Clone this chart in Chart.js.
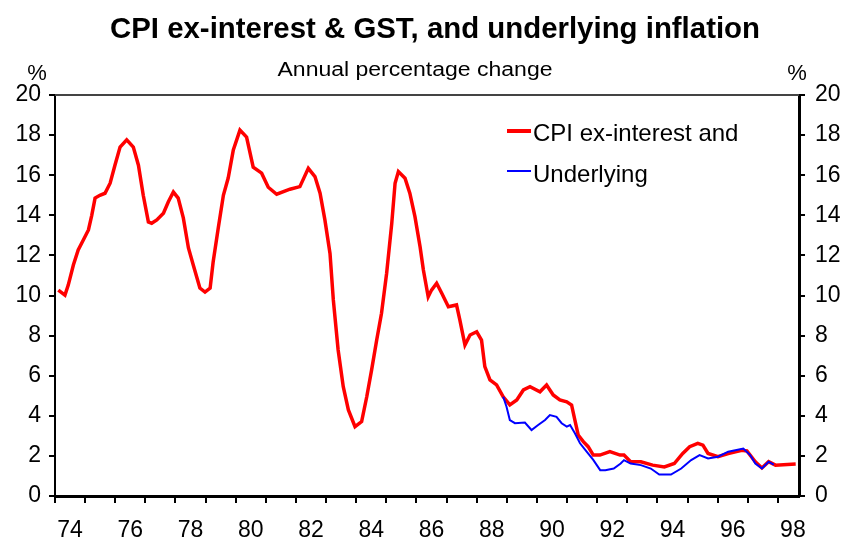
<!DOCTYPE html>
<html>
<head>
<meta charset="utf-8">
<title>CPI ex-interest & GST, and underlying inflation</title>
<script src="https://cdn.jsdelivr.net/npm/chart.js@4.4.1/dist/chart.umd.min.js"></script>
<style>
  html, body { margin: 0; padding: 0; background: #fff; }
  #wrap { width: 845px; height: 542px; position: relative; }
</style>
</head>
<body>
<div id="wrap"><canvas id="cpiChart" width="845" height="542"></canvas></div>
<script>
// Chart data
const cpiYears = [
  1974.11, 1974.33, 1974.44, 1974.61, 1974.77, 1974.94, 1975.11, 1975.22, 1975.33, 1975.49,
  1975.66, 1975.83, 1975.99, 1976.16, 1976.38, 1976.6, 1976.77, 1976.93, 1977.1, 1977.21,
  1977.38, 1977.6, 1977.76, 1977.93, 1978.09, 1978.26, 1978.43, 1978.59, 1978.81, 1978.98,
  1979.15, 1979.25, 1979.42, 1979.59, 1979.75, 1979.92, 1980.14, 1980.36, 1980.58, 1980.86,
  1981.08, 1981.36, 1981.8, 1982.13, 1982.41, 1982.63, 1982.8, 1982.96, 1983.13, 1983.24,
  1983.4, 1983.57, 1983.74, 1983.96, 1984.18, 1984.35, 1984.51, 1984.68, 1984.84, 1985.01,
  1985.18, 1985.29, 1985.4, 1985.62, 1985.78, 1985.95, 1986.12, 1986.23, 1986.39, 1986.5,
  1986.67, 1986.84, 1987.06, 1987.33, 1987.44, 1987.61, 1987.78, 1988.0, 1988.16, 1988.27,
  1988.44, 1988.66, 1988.88, 1989.1, 1989.33, 1989.55, 1989.77, 1990.1, 1990.32, 1990.54,
  1990.76, 1990.99, 1991.15, 1991.26, 1991.37, 1991.54, 1991.7, 1991.87, 1992.09, 1992.42,
  1992.76, 1992.89, 1993.11, 1993.45, 1993.84, 1994.23, 1994.56, 1994.84, 1995.07, 1995.34,
  1995.51, 1995.68, 1996.01, 1996.35, 1996.8, 1996.97, 1997.25, 1997.47, 1997.69, 1997.92,
  1998.59
];
const cpiValues = [
  10.27, 10.02, 10.52, 11.52, 12.27, 12.77, 13.27, 14.0, 14.86, 15.0,
  15.1, 15.6, 16.5, 17.4, 17.76, 17.4, 16.5, 15.0, 13.67, 13.6,
  13.77, 14.1, 14.66, 15.16, 14.86, 13.87, 12.37, 11.52, 10.37, 10.17,
  10.37, 11.67, 13.37, 15.0, 15.86, 17.26, 18.25, 17.9, 16.4, 16.1,
  15.4, 15.05, 15.3, 15.43, 16.34, 15.93, 15.1, 13.77, 12.1, 9.78,
  7.28, 5.45, 4.29, 3.46, 3.71, 4.95, 6.28, 7.78, 9.11, 11.11,
  13.6, 15.6, 16.18, 15.85, 15.1, 13.93, 12.43, 11.27, 9.94, 10.27,
  10.61, 10.11, 9.44, 9.53, 8.78, 7.53, 8.03, 8.19, 7.78, 6.45,
  5.79, 5.54, 4.95, 4.54, 4.79, 5.29, 5.45, 5.2, 5.54, 5.04,
  4.79, 4.7, 4.54, 3.79, 3.04, 2.71, 2.46, 2.04, 2.04, 2.21,
  2.04, 2.04, 1.71, 1.71, 1.54, 1.45, 1.62, 2.12, 2.46, 2.63,
  2.54, 2.12, 1.96, 2.12, 2.28, 2.25, 1.71, 1.4, 1.71, 1.54,
  1.6
];
const underlyingYears = [
  1988.88, 1988.99, 1989.1, 1989.27, 1989.6, 1989.82, 1990.04, 1990.27, 1990.43, 1990.65,
  1990.82, 1990.99, 1991.1, 1991.26, 1991.43, 1991.65, 1991.87, 1992.1, 1992.27, 1992.55,
  1992.78, 1992.89, 1993.11, 1993.45, 1993.78, 1994.06, 1994.45, 1994.79, 1995.12, 1995.4,
  1995.68, 1996.01, 1996.35, 1996.85, 1997.08, 1997.25, 1997.47, 1997.69, 1997.86
];
const underlyingValues = [
  4.95, 4.45, 3.79, 3.63, 3.66, 3.29, 3.54, 3.79, 4.04, 3.95,
  3.63, 3.46, 3.54, 3.13, 2.63, 2.21, 1.8, 1.29, 1.29, 1.37,
  1.62, 1.79, 1.62, 1.54, 1.37, 1.07, 1.07, 1.37, 1.79, 2.04,
  1.87, 1.96, 2.21, 2.37, 2.04, 1.62, 1.37, 1.71, 1.57
];
const yearTicks = [1974, 1975, 1976, 1977, 1978, 1979, 1980, 1981, 1982, 1983, 1984, 1985,
  1986, 1987, 1988, 1989, 1990, 1991, 1992, 1993, 1994, 1995, 1996, 1997, 1998];
const valueTicks = [0, 2, 4, 6, 8, 10, 12, 14, 16, 18, 20];

const chartTitle = 'CPI ex-interest & GST, and underlying inflation';
const chartSubtitle = 'Annual percentage change';
const legendLabels = ['CPI ex-interest and', 'Underlying'];

const tickFont = { family: "'Liberation Sans', Arial, sans-serif", size: 23 };

// Helper: draw text squeezed/stretched to a given width
function fitText(ctx, text, cx, cy, width, font) {
  ctx.save();
  ctx.font = font;
  const w = ctx.measureText(text).width;
  ctx.translate(cx, cy);
  ctx.scale(width / w, 1);
  ctx.textAlign = 'center';
  ctx.textBaseline = 'middle';
  ctx.fillText(text, 0, 0);
  ctx.restore();
}

// Title, % labels, top frame line and legend
const decorations = {
  id: 'decorations',
  afterDraw(chart) {
    const ctx = chart.ctx;
    const area = chart.chartArea;
    ctx.save();
    ctx.fillStyle = '#000';
    fitText(ctx, chartTitle, 435, 30, 650, "bold 30px 'Liberation Sans Narrow', 'Liberation Sans', Arial, sans-serif");
    fitText(ctx, chartSubtitle, 415, 70, 275, "20px 'Liberation Sans Narrow', 'Liberation Sans', Arial, sans-serif");

    ctx.font = "22px 'Liberation Sans', Arial, sans-serif";
    ctx.textAlign = 'center';
    ctx.textBaseline = 'middle';
    ctx.fillText('%', 37, 74);
    ctx.fillText('%', 797, 74);

    // top frame line
    ctx.strokeStyle = '#444';
    ctx.lineWidth = 2;
    ctx.beginPath();
    ctx.moveTo(area.left, area.top);
    ctx.lineTo(area.right, area.top);
    ctx.stroke();

    // legend
    ctx.lineCap = 'butt';
    ctx.strokeStyle = '#ff0000';
    ctx.lineWidth = 4;
    ctx.beginPath();
    ctx.moveTo(507, 131);
    ctx.lineTo(531, 131);
    ctx.stroke();
    ctx.strokeStyle = '#0000ff';
    ctx.lineWidth = 2;
    ctx.beginPath();
    ctx.moveTo(507, 171);
    ctx.lineTo(531, 171);
    ctx.stroke();

    ctx.fillStyle = '#000';
    ctx.font = "24px 'Liberation Sans', Arial, sans-serif";
    ctx.textAlign = 'left';
    ctx.fillText(legendLabels[0], 533, 134);
    ctx.fillText(legendLabels[1], 533, 175);
    ctx.restore();
  }
};

const toPoints = (xs, ys) => xs.map((x, i) => ({ x: x, y: ys[i] }));

const ctx = document.getElementById('cpiChart').getContext('2d');
const cpiChart = new Chart(ctx, {
  type: 'line',
  data: {
    datasets: [
      {
        label: legendLabels[1],
        data: toPoints(underlyingYears, underlyingValues),
        borderColor: '#0000ff',
        borderWidth: 2,
        pointRadius: 0,
        tension: 0,
        yAxisID: 'y'
      },
      {
        label: legendLabels[0],
        data: toPoints(cpiYears, cpiValues),
        borderColor: '#ff0000',
        borderWidth: 3.5,
        pointRadius: 0,
        tension: 0,
        yAxisID: 'y'
      }
    ]
  },
  options: {
    responsive: false,
    animation: false,
    layout: { padding: { top: 95, left: 0, right: 0, bottom: 0 } },
    plugins: {
      legend: { display: false },
      title: { display: false },
      tooltip: { enabled: false }
    },
    scales: {
      x: {
        type: 'linear',
        min: 1974,
        max: 1998.7,
        afterBuildTicks: axis => { axis.ticks = yearTicks.map(v => ({ value: v })); },
        afterFit: axis => { axis.height = 46; },
        border: { display: true, color: '#000', width: 3 },
        grid: { drawOnChartArea: false, drawTicks: true, tickLength: 7, color: '#000', lineWidth: 2 },
        ticks: {
          color: '#000',
          font: tickFont,
          padding: 14,
          maxRotation: 0,
          autoSkip: false,
          labelOffset: 15,
          callback: v => (v % 2 === 0 && v < 1999 ? String(v).slice(2) : '')
        }
      },
      y: {
        position: 'left',
        min: 0,
        max: 20,
        afterBuildTicks: axis => { axis.ticks = valueTicks.map(v => ({ value: v })); },
        afterFit: axis => { axis.width = 55; },
        border: { display: true, color: '#000', width: 2 },
        grid: { drawOnChartArea: false, drawTicks: true, tickLength: 6, color: '#000', lineWidth: 2 },
        ticks: { color: '#000', font: tickFont, padding: 8 }
      },
      y2: {
        position: 'right',
        min: 0,
        max: 20,
        afterBuildTicks: axis => { axis.ticks = valueTicks.map(v => ({ value: v })); },
        afterFit: axis => { axis.width = 46; },
        border: { display: true, color: '#000', width: 3 },
        grid: { drawOnChartArea: false, drawTicks: true, tickLength: 6, color: '#000', lineWidth: 2 },
        ticks: { color: '#000', font: tickFont, padding: 10 }
      }
    }
  },
  plugins: [decorations]
});
</script>
</body>
</html>
